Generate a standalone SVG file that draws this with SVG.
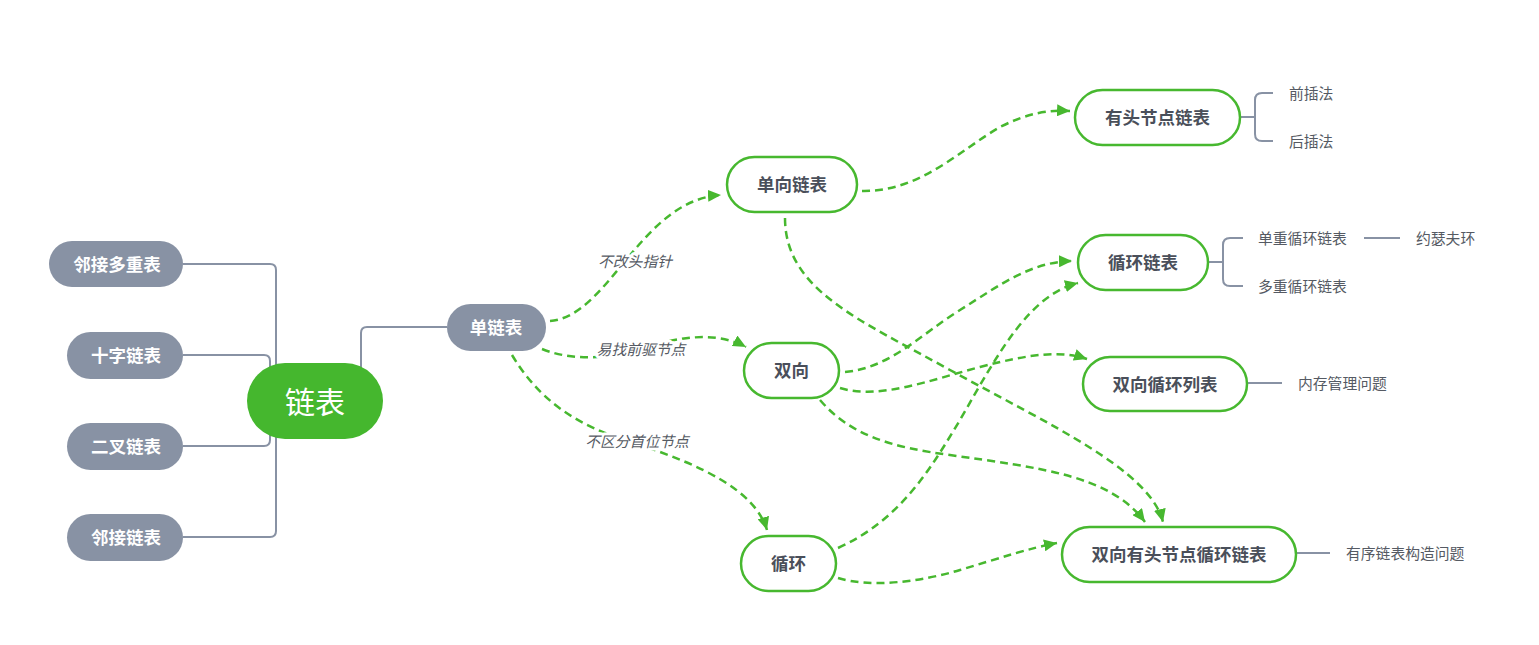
<svg xmlns="http://www.w3.org/2000/svg" width="1539" height="645" viewBox="0 0 1539 645">
<defs>
<marker id="arr" markerUnits="userSpaceOnUse" markerWidth="14" markerHeight="12" refX="13" refY="6" orient="auto">
<path d="M0,0 L13,6 L0,12 Z" fill="#47B82F"/>
</marker>
<style>
.gray{fill:#8892A4;}
.gtxt{font-family:"Noto Sans CJK SC","Noto Sans",sans-serif;font-size:17.5px;font-weight:bold;fill:#ffffff;text-anchor:middle;dominant-baseline:central;}
.gnode{fill:#ffffff;stroke:#47B82F;stroke-width:2.5;}
.ntxt{font-family:"Noto Sans CJK SC","Noto Sans",sans-serif;font-size:17.5px;font-weight:bold;fill:#4A4F5A;text-anchor:middle;dominant-baseline:central;}
.stxt{font-family:"Noto Sans CJK SC","Noto Sans",sans-serif;font-size:14.8px;fill:#555A63;dominant-baseline:central;}
.lbl{font-family:"Noto Sans CJK SC","Noto Sans",sans-serif;font-size:14.8px;font-style:italic;fill:#555A63;text-anchor:middle;dominant-baseline:central;stroke:#ffffff;stroke-width:6;paint-order:stroke;stroke-linejoin:round;}
.gline{fill:none;stroke:#8892A4;stroke-width:2;}
.dash{fill:none;stroke:#47B82F;stroke-width:2.5;stroke-dasharray:8 5;marker-end:url(#arr);}
</style>
</defs>
<rect width="1539" height="645" fill="#ffffff"/>

<g id="connectors">
<path class="gline" d="M183,264 H270 Q276,264 276,270 V531 Q276,537 270,537 H183"/>
<path class="gline" d="M183,355 H264 Q270,355 270,361 V380"/>
<path class="gline" d="M183,446 H264 Q270,446 270,440 V420"/>
<path class="gline" d="M361,380 V333 Q361,327 367,327 H447"/>
<path class="gline" d="M1240,117 H1255 M1273,93 H1262 Q1255,93 1255,100 V134 Q1255,141 1262,141 H1273"/>
<path class="gline" d="M1208,262 H1223 M1243,238 H1230 Q1223,238 1223,245 V279 Q1223,286 1230,286 H1243"/>
<path class="gline" d="M1364,238 H1400"/>
<path class="gline" d="M1247,383 H1282"/>
<path class="gline" d="M1296,553 H1330"/>

<path class="dash" d="M550,321 C610,316 640,200 721,195"/>
<path class="dash" d="M542,349 C580,364 620,356 650,346 C690,334 722,334 746,347"/>
<path class="dash" d="M512,355 C545,410 590,430 640,445 C700,465 755,490 767,530"/>
<path class="dash" d="M862,191 C920,192 960,150 1000,127 C1030,112 1050,110 1070,111"/>
<path class="dash" d="M785,218 C785,290 860,320 950,370 C1050,425 1150,470 1163,522"/>
<path class="dash" d="M845,372 C890,368 920,335 960,310 C1000,285 1030,262 1072,261"/>
<path class="dash" d="M840,388 C880,400 930,380 980,367 C1030,354 1060,350 1087,359"/>
<path class="dash" d="M820,400 C850,435 890,447 950,455 C1040,468 1110,475 1145,522"/>
<path class="dash" d="M838,548 C900,520 930,470 960,420 C1000,350 1030,295 1078,283"/>
<path class="dash" d="M838,578 C870,588 920,582 960,570 C1000,558 1030,548 1057,543"/>

<text class="lbl" x="635" y="260">不改头指针</text>
<text class="lbl" x="641" y="348">易找前驱节点</text>
<text class="lbl" x="637" y="440">不区分首位节点</text>
</g>

<g id="root">
<rect x="247" y="363" width="136" height="76" rx="38" fill="#45B72E"/>
<text x="315" y="400" font-family="'Noto Sans CJK SC','Noto Sans',sans-serif" font-size="30" fill="#ffffff" text-anchor="middle" dominant-baseline="central">链表</text>
</g>

<g id="n-ljdcb"><rect class="gray" x="49" y="241" width="134" height="46" rx="23"/><text class="gtxt" x="117" y="263">邻接多重表</text></g>
<g id="n-szlb"><rect class="gray" x="67" y="332" width="116" height="47" rx="23.5"/><text class="gtxt" x="126" y="354.5">十字链表</text></g>
<g id="n-eclb"><rect class="gray" x="67" y="423" width="116" height="47" rx="23.5"/><text class="gtxt" x="126" y="445.5">二叉链表</text></g>
<g id="n-ljlb"><rect class="gray" x="67" y="514" width="116" height="47" rx="23.5"/><text class="gtxt" x="126" y="536.5">邻接链表</text></g>
<g id="n-dlb"><rect class="gray" x="447" y="304" width="99" height="47" rx="23.5"/><text class="gtxt" x="496" y="326.5">单链表</text></g>

<g id="n-dxlb"><rect class="gnode" x="727" y="157" width="130" height="55" rx="27.5"/><text class="ntxt" x="792" y="183.5">单向链表</text></g>
<g id="n-sx"><rect class="gnode" x="744" y="343" width="95" height="55" rx="27.5"/><text class="ntxt" x="791.5" y="369.5">双向</text></g>
<g id="n-xh"><rect class="gnode" x="741" y="536" width="95" height="55" rx="27.5"/><text class="ntxt" x="788.5" y="562.5">循环</text></g>
<g id="n-ytjdlb"><rect class="gnode" x="1075" y="90" width="165" height="55" rx="27.5"/><text class="ntxt" x="1157.5" y="116.5">有头节点链表</text></g>
<g id="n-xhlb"><rect class="gnode" x="1078" y="235" width="130" height="55" rx="27.5"/><text class="ntxt" x="1143" y="261.5">循环链表</text></g>
<g id="n-sxxhlb"><rect class="gnode" x="1083" y="357" width="164" height="54" rx="27"/><text class="ntxt" x="1165" y="383">双向循环列表</text></g>
<g id="n-sxytxh"><rect class="gnode" x="1062" y="527" width="234" height="55" rx="27.5"/><text class="ntxt" x="1179" y="553.5">双向有头节点循环链表</text></g>

<g id="leaves">
<text class="stxt" x="1289" y="92">前插法</text>
<text class="stxt" x="1289" y="140">后插法</text>
<text class="stxt" x="1258" y="237">单重循环链表</text>
<text class="stxt" x="1258" y="285">多重循环链表</text>
<text class="stxt" x="1416" y="237">约瑟夫环</text>
<text class="stxt" x="1298" y="382">内存管理问题</text>
<text class="stxt" x="1346" y="552">有序链表构造问题</text>
</g>
</svg>
